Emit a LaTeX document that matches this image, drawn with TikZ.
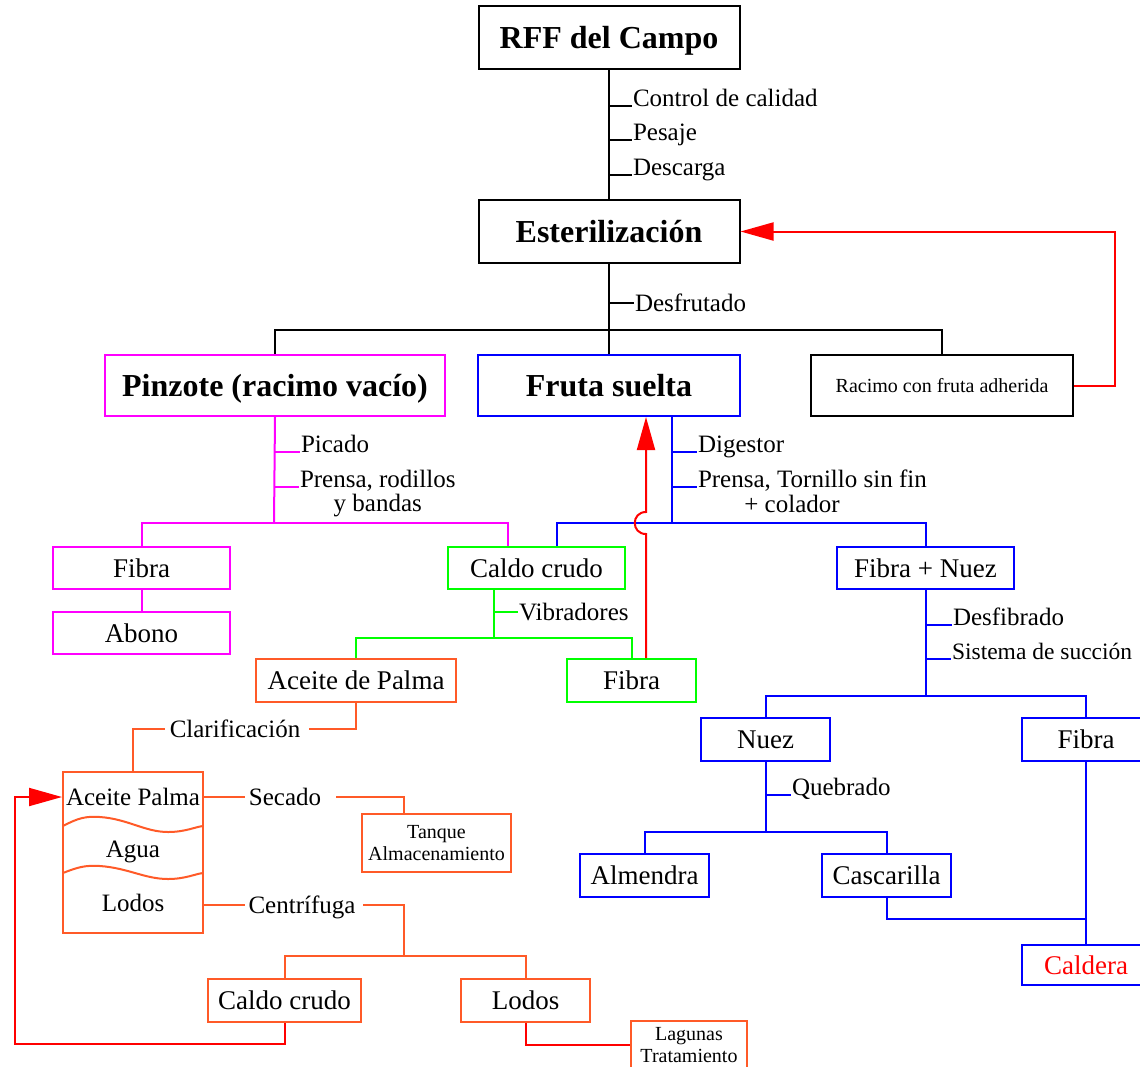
\documentclass[tikz,border=0pt]{standalone}
\usepackage{fontspec}
\setmainfont{Liberation Serif}
\usetikzlibrary{arrows.meta}
\definecolor{mag}{RGB}{255,0,255}
\definecolor{blu}{RGB}{0,0,255}
\definecolor{grn}{RGB}{0,255,0}
\definecolor{org}{RGB}{255,90,40}
\definecolor{rd}{RGB}{255,0,0}
\begin{document}
\begin{tikzpicture}[x=1pt,y=-1pt,line width=2pt,
  box/.style={draw,rectangle,inner sep=0pt},
  big/.style={font=\fontsize{32}{36}\selectfont\bfseries,text height=21pt,text depth=0pt},
  mid/.style={font=\fontsize{27}{30}\selectfont,text height=18pt,text depth=0pt},
  lbl/.style={font=\fontsize{25}{28}\selectfont,inner sep=0pt,text height=16.5pt,text depth=0pt},
  small/.style={font=\fontsize{20}{22}\selectfont,align=center},
  tip/.style={-{Triangle[length=33pt,width=18pt]}}]
\useasboundingbox (0,0) rectangle (1140,1066);
\clip (0,0) rectangle (1140,1066);
\fill[white] (0,0) rectangle (1140,1066);

% ---- main line: field bunches to sterilisation
\node[box,big,minimum width=261pt,minimum height=63pt] (rff) at (609,37.5) {RFF del Campo};
\node[box,big,minimum width=261pt,minimum height=63pt] (est) at (609,231.5) {Esterilización};
\draw (rff.south) -- (est.north);
\node[lbl,anchor=base west] (cc) at (632,106) {Control de calidad};
\node[lbl,anchor=base west] (pes) at (632,140) {Pesaje};
\node[lbl,anchor=base west] (des) at (632,175) {Descarga};
\foreach \t in {cc,pes,des} \draw (\t.base west -| rff.south) -- (\t.base west);

% ---- threshing
\node[box,big,draw=mag,minimum width=340pt,minimum height=61pt] (pinz) at (275,385.5) {Pinzote (racimo vacío)};
\node[box,big,draw=blu,minimum width=262pt,minimum height=61pt] (fruta) at (609,385.5) {Fruta suelta};
\node[box,small,minimum width=262pt,minimum height=61pt] (rac) at (942,385.5) {Racimo con fruta adherida};
\coordinate (b1) at (609,330);
\draw (est.south) -- (b1);
\draw (pinz.north) |- (b1) -| (rac.north);
\draw (b1) -- (fruta.north);
\node[lbl,anchor=west] (dfr) at (634,303) {Desfrutado};
\draw (dfr.west -| b1) -- (dfr.west);
\coordinate (rc) at (1115,231.5);
\draw[rd,tip] (rac.east) -| (rc) -- (est.east);

% ---- empty bunch branch
\node[box,mid,draw=mag,minimum width=177pt,minimum height=42pt] (pfib) at (141.5,568) {Fibra};
\node[box,mid,draw=mag,minimum width=177pt,minimum height=42pt] (abono) at (141.5,633) {Abono};
\node[box,mid,draw=grn,minimum width=177pt,minimum height=42pt] (caldo) at (536.5,568) {Caldo crudo};
\coordinate (b2) at (274,523);
\draw[mag] (pinz.south) -- (b2);
\draw[mag] (pfib.north) |- (b2) -| ([xshift=-28.5pt]caldo.north);
\draw[mag] (pfib.south) -- (abono.north);
\node[lbl,anchor=base west] (pic) at (300,452) {Picado};
\node[lbl,anchor=base west] (prr) at (299,487) {Prensa, rodillos};
\path (prr.base) ++(0,24) node[lbl,anchor=base] {y bandas};
\foreach \t in {pic,prr} \draw[mag] (\t.base west -| b2) -- (\t.base west);

% ---- loose fruit branch
\node[box,mid,draw=blu,minimum width=177pt,minimum height=42pt] (fnuez) at (925.5,568) {Fibra + Nuez};
\coordinate (b3) at (672,523);
\draw[blu] ([xshift=63pt]fruta.south) -- (b3);
\draw[blu] ([xshift=20.5pt]caldo.north) |- (b3) -| (fnuez.north);
\node[lbl,anchor=base west] (dig) at (697,452) {Digestor};
\node[lbl,anchor=base west] (ptf) at (697,487) {Prensa, Tornillo sin fin};
\node[lbl,anchor=base] at (792,512) {+ colador};
\foreach \t in {dig,ptf} \draw[blu] (\t.base west -| b3) -- (\t.base west);

% ---- crude liquor
\node[box,mid,draw=org,minimum width=200pt,minimum height=43pt] (adp) at (356,680.5) {Aceite de Palma};
\node[box,mid,draw=grn,minimum width=129pt,minimum height=43pt] (gfib) at (631.5,680.5) {Fibra};
\coordinate (b4) at (494,638);
\draw[grn] ([xshift=-42.5pt]caldo.south) -- (b4);
\draw[grn] (adp.north) |- (b4) -| (gfib.north);
\node[lbl,anchor=west] (vib) at (518,612) {Vibradores};
\draw[grn] (vib.west -| b4) -- (vib.west);
\draw[rd,tip] ([xshift=14.5pt]gfib.north) -- (646,534)
  .. controls (631,534) and (631,512) .. (646,512) -- ([xshift=37pt]fruta.south);

% ---- fibre and nut
\node[box,mid,draw=blu,minimum width=129pt,minimum height=43pt] (nuez) at (765.5,739.5) {Nuez};
\node[box,mid,draw=blu,minimum width=128pt,minimum height=43pt] (bfib) at (1086,739.5) {Fibra};
\coordinate (b5) at (925.5,696);
\draw[blu] (fnuez.south) -- (b5);
\draw[blu] (nuez.north) |- (b5) -| (bfib.north);
\node[lbl,anchor=base west] (dsf) at (952,625) {Desfibrado};
\node[lbl,anchor=base west,font=\fontsize{23.5}{26}\selectfont] (sds) at (951,659) {Sistema de succión};
\foreach \t in {dsf,sds} \draw[blu] (\t.base west -| b5) -- (\t.base west);

\node[box,mid,draw=blu,minimum width=129pt,minimum height=43pt] (alm) at (644.5,875.5) {Almendra};
\node[box,mid,draw=blu,minimum width=129pt,minimum height=43pt] (casc) at (886.5,875.5) {Cascarilla};
\node[box,mid,draw=blu,text=rd,minimum width=128pt,minimum height=40pt] (cald) at (1086,965) {Caldera};
\coordinate (b6) at (765.5,832);
\draw[blu] (nuez.south) -- (b6);
\draw[blu] (alm.north) |- (b6) -| (casc.north);
\node[lbl,anchor=base west] (qbr) at (791,795) {Quebrado};
\draw[blu] (qbr.base west -| b6) -- (qbr.base west);
\coordinate (b7) at (1086,919);
\draw[blu] (casc.south) |- (b7);
\draw[blu] (bfib.south) -- (cald.north);

% ---- clarification tank
\node[box,draw=org,minimum width=140pt,minimum height=161pt] (sep) at (133,852.5) {};
\node[lbl] (ap) at (133,797) {Aceite Palma};
\node[lbl] (agua) at (133,849) {Agua};
\node[lbl] (lodo) at (133,903) {Lodos};
\draw[org] (63,826) .. controls (78,818) and (86,816) .. (100,817)
  .. controls (128,819) and (145,832) .. (168,832)
  .. controls (185,832) and (195,827) .. (203,826);
\draw[org] (63,873) .. controls (78,867) and (86,865) .. (100,866)
  .. controls (128,868) and (145,879) .. (168,879)
  .. controls (185,879) and (195,874) .. (203,873);

\node[lbl] (clar) at (235,729) {Clarificación};
\draw[org] (adp.south) |- ([xshift=8pt]clar.east);
\draw[org] ([xshift=-4pt]clar.west) -| (sep.north);

\node[box,small,draw=org,minimum width=149pt,minimum height=58pt] (tanq) at (436.5,843) {Tanque\\Almacenamiento};
\node[lbl] (sec) at (285,797) {Secado};
\draw[org] (sep.east |- sec.west) -- ([xshift=-3pt]sec.west);
\draw[org] ([xshift=14pt]sec.east) -| ([xshift=-32.5pt]tanq.north);

\node[box,mid,draw=org,minimum width=153pt,minimum height=43pt] (ccr) at (284.5,1000.5) {Caldo crudo};
\node[box,mid,draw=org,minimum width=129pt,minimum height=43pt] (lod) at (525.5,1000.5) {Lodos};
\node[box,small,draw=org,minimum width=116pt,minimum height=48pt] (lag) at (689,1045) {Lagunas\\Tratamiento};
\node[lbl] (cen) at (302,905) {Centrífuga};
\coordinate (b8) at (404,956);
\draw[org] (sep.east |- cen.west) -- ([xshift=-3pt]cen.west);
\draw[org] ([xshift=7pt]cen.east) -| (b8);
\draw[org] (ccr.north) |- (b8) -| (lod.north);

% ---- returns
\coordinate (rl) at (15,1044);
\draw[rd,tip] (ccr.south) |- (rl) |- (sep.west |- ap.west);
\draw[rd] (lod.south) |- (lag.west);
\end{tikzpicture}
\end{document}
